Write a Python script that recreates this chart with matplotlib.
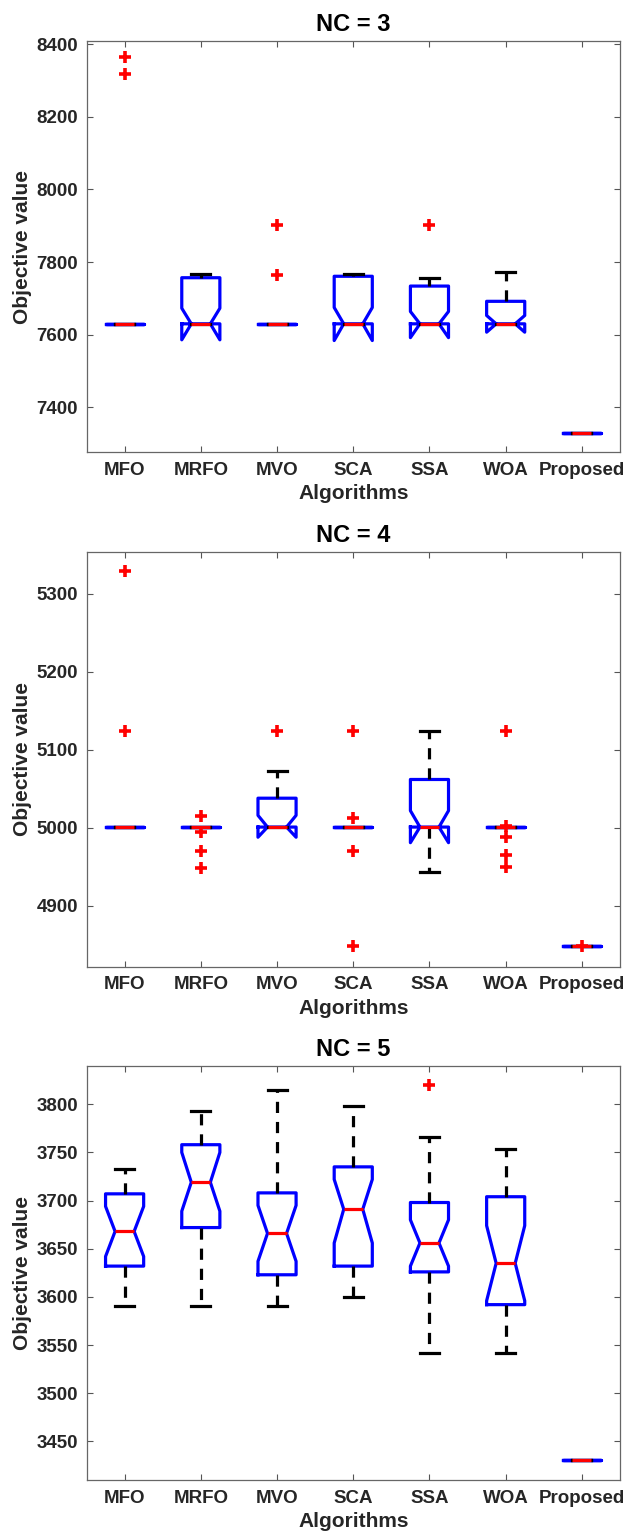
import matplotlib
matplotlib.use('agg')
import matplotlib.pyplot as plt

plt.rcParams['font.family'] = ['Liberation Sans', 'DejaVu Sans']
plt.rcParams['font.weight'] = 'bold'

algorithms = ['MFO', 'MRFO', 'MVO', 'SCA', 'SSA', 'WOA', 'Proposed']

# NC = 3 : box statistics
nc3_med = [7630, 7630, 7630, 7630, 7630, 7630, 7328]
nc3_q1 = [7630, 7630, 7630, 7630, 7630, 7630, 7328]
nc3_q3 = [7630, 7757, 7630, 7761, 7734, 7692, 7328]
nc3_lo = [7630, 7630, 7630, 7630, 7630, 7630, 7328]
nc3_hi = [7630, 7767, 7630, 7766, 7755, 7772, 7328]
nc3_cilo = [7630, 7586, 7630, 7584, 7592, 7607, 7328]
nc3_cihi = [7630, 7673, 7630, 7675, 7664, 7653, 7328]
nc3_out = [[8364, 8319], [], [7902, 7764], [], [7902], [], []]

# NC = 4
nc4_med = [5001, 5001, 5001, 5001, 5001, 5001, 4848]
nc4_q1 = [5001, 5001, 5001, 5001, 5001, 5001, 4848]
nc4_q3 = [5001, 5001, 5038, 5001, 5062, 5001, 4848]
nc4_lo = [5001, 5001, 5001, 5001, 4944, 5001, 4848]
nc4_hi = [5001, 5001, 5073, 5001, 5124, 5001, 4848]
nc4_cilo = [5001, 5001, 4988, 5001, 4981, 5001, 4848]
nc4_cihi = [5001, 5001, 5016, 5001, 5022, 5001, 4848]
nc4_out = [[5329, 5124], [5015, 4995, 4970, 4949], [5124],
           [5124, 5013, 4970, 4848], [], [5124, 5002, 4988, 4965, 4950], [4848]]

# NC = 5
nc5_med = [3668, 3719, 3666, 3691, 3656, 3635, 3431]
nc5_q1 = [3632, 3672, 3623, 3632, 3626, 3592, 3431]
nc5_q3 = [3707, 3758, 3708, 3735, 3698, 3704, 3431]
nc5_lo = [3591, 3591, 3591, 3600, 3542, 3542, 3431]
nc5_hi = [3733, 3793, 3815, 3798, 3766, 3754, 3431]
nc5_cilo = [3642, 3689, 3637, 3656, 3632, 3596, 3431]
nc5_cihi = [3694, 3750, 3695, 3722, 3680, 3674, 3431]
nc5_out = [[], [], [], [], [3820], [], []]


def make_stats(med, q1, q3, lo, hi, cilo, cihi, out):
    stats = []
    for i in range(len(med)):
        stats.append(dict(med=med[i], q1=q1[i], q3=q3[i], whislo=lo[i],
                          whishi=hi[i], cilo=cilo[i], cihi=cihi[i],
                          fliers=out[i], label=algorithms[i]))
    return stats


panels = [
    ('NC = 3', make_stats(nc3_med, nc3_q1, nc3_q3, nc3_lo, nc3_hi, nc3_cilo, nc3_cihi, nc3_out),
     (7277, 8409), [7400, 7600, 7800, 8000, 8200, 8400]),
    ('NC = 4', make_stats(nc4_med, nc4_q1, nc4_q3, nc4_lo, nc4_hi, nc4_cilo, nc4_cihi, nc4_out),
     (4822, 5354), [4900, 5000, 5100, 5200, 5300]),
    ('NC = 5', make_stats(nc5_med, nc5_q1, nc5_q3, nc5_lo, nc5_hi, nc5_cilo, nc5_cihi, nc5_out),
     (3410, 3840), [3450, 3500, 3550, 3600, 3650, 3700, 3750, 3800]),
]

W, H = 625, 1539
fig = plt.figure(figsize=(W / 100, H / 100), dpi=100)
# axes boxes in pixels: (top, bottom)
boxes_px = [(41, 452), (551.7, 966.7), (1065.7, 1480)]
left_px, right_px = 86.5, 620

for (title, stats, ylim, yticks), (top, bot) in zip(panels, boxes_px):
    ax = fig.add_axes([left_px / W, 1 - bot / H, (right_px - left_px) / W, (bot - top) / H])
    ax.bxp(stats, positions=range(1, 8), widths=0.5, capwidths=0.25,
           shownotches=True,
           boxprops=dict(color='blue', linewidth=2.3),
           medianprops=dict(color='red', linewidth=2.3),
           whiskerprops=dict(color='black', linewidth=2.3, linestyle=(0, (3.5, 2.8))),
           capprops=dict(color='black', linewidth=2.3),
           flierprops=dict(marker='+', markeredgecolor='red', markersize=8,
                           markeredgewidth=2.6, linestyle='none'))
    ax.set_xlim(0.5, 7.5)
    ax.set_ylim(*ylim)
    ax.set_yticks(yticks)
    ax.set_xticks(range(1, 8))
    ax.set_xticklabels(algorithms)
    ax.tick_params(direction='in', top=True, right=True, length=4, width=0.8,
                   color='#555555', labelsize=13.5, labelcolor='#262626')
    ax.tick_params(axis='x', pad=7)
    ax.tick_params(axis='y', pad=6)
    for sp in ax.spines.values():
        sp.set_color('#666666')
        sp.set_linewidth(0.9)
    ax.set_title(title, fontsize=17, fontweight='bold', pad=7)
    ax.set_xlabel('Algorithms', fontsize=15, fontweight='bold', labelpad=4, color='#262626')
    ax.set_ylabel('Objective value', fontsize=15, fontweight='bold', labelpad=3, color='#262626')

plt.savefig('out.png', dpi=100)
